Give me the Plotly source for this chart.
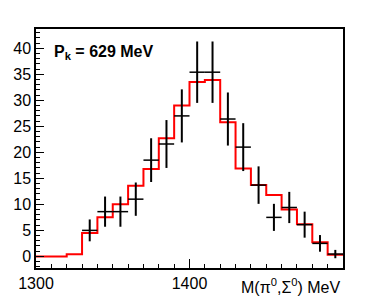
import plotly.graph_objects as go

# Histogram (MC fit) — 10 MeV bins from 1300 to 1500
bin_edges = [1300, 1310, 1320, 1330, 1340, 1350, 1360, 1370, 1380, 1390, 1400,
             1410, 1420, 1430, 1440, 1450, 1460, 1470, 1480, 1490, 1500]
fit_values = [0.0, 0.0, 0.4, 4.5, 7.5, 10.0, 13.6, 16.8, 22.7, 29.0, 33.5,
              33.9, 25.8, 16.9, 13.7, 11.8, 9.0, 6.2, 2.7, 0.3]

# Data points
data_x = [1335, 1345, 1355, 1365, 1375, 1385, 1395, 1405, 1415, 1425,
          1435, 1445, 1455, 1465, 1475, 1485, 1495]
data_y = [5.0, 8.6, 8.6, 11.0, 18.5, 21.6, 27.0, 35.4, 35.4, 26.4,
          21.0, 13.7, 7.5, 9.4, 6.1, 2.5, 0.45]
data_err = [2.1, 2.9, 2.9, 3.2, 4.2, 4.6, 5.1, 5.9, 5.9, 5.1,
            4.6, 3.6, 2.6, 3.0, 2.5, 1.6, 0.8]
half_bin = [5] * len(data_x)

y_ticks = [0, 5, 10, 15, 20, 25, 30, 35, 40]
x_ticks = [1300, 1400]
x_ticklabels = ["1300", "1400"]

FONT = "Liberation Sans, Arial, Helvetica, sans-serif"

fig = go.Figure()
fig.add_trace(go.Scatter(
    x=bin_edges, y=fit_values + [fit_values[-1]],
    mode="lines", line=dict(color="#ff0000", width=2, shape="hv"),
    hoverinfo="skip", showlegend=False))
fig.add_trace(go.Scatter(
    x=data_x, y=data_y, mode="markers",
    marker=dict(size=1, color="black"),
    error_x=dict(type="data", array=half_bin, width=0, thickness=1.5, color="black"),
    error_y=dict(type="data", array=data_err, width=0, thickness=2, color="black"),
    showlegend=False))

fig.update_layout(
    template="none",
    width=369, height=298,
    margin=dict(l=36, r=26, t=29, b=30, pad=0),
    paper_bgcolor="white", plot_bgcolor="white",
    font=dict(family=FONT, size=16, color="black"),
    xaxis=dict(range=[1300, 1500], showgrid=False, zeroline=False, automargin=False,
               showline=True, linecolor="black", linewidth=1.5, mirror=True,
               ticks="inside", ticklen=9, tickwidth=1, tickcolor="black",
               tickvals=x_ticks, ticktext=x_ticklabels,
               tickfont=dict(size=16),
               minor=dict(dtick=10, tick0=1300, ticks="inside", ticklen=4,
                          tickwidth=1, tickcolor="black", showgrid=False)),
    yaxis=dict(range=[-2.23, 43.7], showgrid=False, zeroline=False, automargin=False,
               showline=True, linecolor="black", linewidth=1.5, mirror=True,
               ticks="inside", ticklen=8, tickwidth=1, tickcolor="black",
               tickvals=y_ticks, tickfont=dict(size=16),
               minor=dict(dtick=1, tick0=0, ticks="inside", ticklen=4,
                          tickwidth=1, tickcolor="black", showgrid=False)),
    annotations=[
        dict(text="<b>P<sub>k</sub> = 629 MeV</b>", xref="paper", yref="paper",
             x=0.052, y=0.9, xanchor="left", yanchor="middle", showarrow=False,
             font=dict(size=16, family=FONT, color="black")),
        dict(text="M(π<sup>0</sup>,Σ<sup>0</sup>) MeV", xref="paper", yref="paper",
             x=1.0, y=-0.075, xanchor="right", yanchor="middle", showarrow=False,
             font=dict(size=16, family=FONT, color="black")),
    ],
)

fig.write_html("out.html")
